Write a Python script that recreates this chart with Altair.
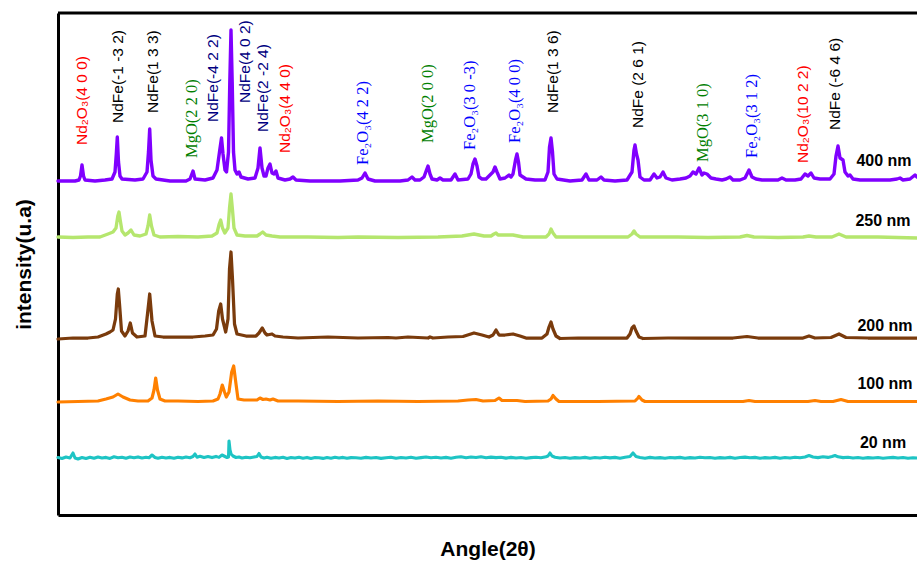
import altair as alt
import pandas as pd

# ---------------------------------------------------------------------------
# XRD patterns (2θ in degrees, intensity in arbitrary units above each baseline)
# ---------------------------------------------------------------------------
series_names = ["400 nm", "250 nm", "200 nm", "100 nm", "20 nm"]
series_colors = ["#8000ff", "#b5e66e", "#7a3b0c", "#ff8000", "#1ec4c4"]
series_offsets = [333, 277, 176, 113, 57]
series_widths = [3.4, 3.1, 3.0, 3.0, 2.4]

xrd_400 = [
    (10.0, 1), (11.7, 1), (12.1, 2), (12.25, 6), (12.4, 17), (12.55, 6), (12.7, 2),
    (13.7, 1), (14.7, 2), (15.4, 3), (15.7, 10), (15.83, 28), (15.93, 45), (16.05, 20),
    (16.2, 6), (16.4, 3), (17.7, 2), (18.5, 3), (18.9, 10), (19.05, 30), (19.17, 53),
    (19.3, 22), (19.5, 6), (19.8, 3), (21.2, 1), (22.8, 1), (23.2, 3), (23.5, 11),
    (23.7, 3), (24.7, 2), (25.5, 4), (25.9, 12), (26.15, 30), (26.35, 44), (26.5, 28),
    (26.7, 12), (26.85, 10), (27.05, 30), (27.18, 100), (27.3, 152), (27.42, 100),
    (27.55, 30), (27.7, 12), (27.9, 8), (28.1, 10), (28.3, 5), (29.0, 3), (29.7, 4),
    (30.0, 14), (30.2, 34), (30.4, 14), (30.6, 6), (30.8, 6), (31.0, 14), (31.2, 18),
    (31.4, 9), (31.6, 8), (31.8, 11), (32.0, 4), (32.7, 2), (33.2, 3), (33.5, 5),
    (33.8, 2), (35.2, 1), (38.2, 1), (40.0, 2), (40.4, 4), (40.7, 9), (41.0, 3),
    (41.7, 1), (44.2, 1), (45.0, 2), (45.4, 5), (45.7, 2), (46.2, 2), (46.6, 5),
    (46.85, 12), (47.0, 16), (47.2, 8), (47.4, 3), (47.9, 2), (48.2, 4), (48.5, 2),
    (49.3, 2), (49.7, 8), (50.0, 2), (51.0, 3), (51.3, 8), (51.5, 18), (51.7, 23),
    (51.9, 16), (52.1, 5), (52.4, 3), (52.8, 3), (53.5, 10), (53.7, 15), (53.9, 10),
    (54.2, 3), (54.7, 4), (55.1, 7), (55.3, 5), (55.5, 8), (55.75, 22), (55.9, 28),
    (56.05, 20), (56.2, 7), (56.5, 5), (56.8, 3), (57.7, 2), (58.7, 2), (59.0, 10),
    (59.15, 35), (59.3, 44), (59.45, 30), (59.6, 8), (59.9, 3), (61.2, 1), (62.4, 2),
    (62.8, 8), (63.1, 2), (63.9, 2), (64.3, 5), (64.6, 2), (65.7, 1), (66.9, 2),
    (67.4, 10), (67.6, 32), (67.7, 37), (67.85, 28), (68.0, 22), (68.2, 5), (68.6, 2),
    (69.2, 2), (69.6, 8), (69.9, 4), (70.2, 5), (70.5, 10), (70.8, 4), (71.4, 2),
    (72.2, 3), (72.8, 4), (73.2, 6), (73.5, 10), (73.8, 8), (74.1, 14), (74.4, 7),
    (74.6, 9), (74.9, 8), (75.3, 4), (75.8, 3), (76.4, 2), (76.8, 3), (77.2, 5),
    (77.5, 2), (78.2, 2), (78.7, 4), (79.1, 12), (79.4, 5), (79.8, 3), (80.4, 2),
    (81.4, 2), (82.0, 2), (82.4, 4), (82.8, 2), (83.7, 2), (84.3, 3), (84.7, 8),
    (85.0, 6), (85.3, 9), (85.6, 4), (86.2, 3), (87.2, 3), (87.6, 8), (87.8, 26),
    (88.0, 36), (88.2, 24), (88.5, 22), (88.7, 10), (89.0, 6), (89.2, 7), (89.5, 3),
    (90.2, 2), (91.2, 2), (92.2, 2), (93.2, 2), (93.9, 3), (94.2, 4), (94.5, 2),
    (95.2, 3), (95.7, 7), (95.9, 5),
]

xrd_250 = [
    (10.0, 1), (11.5, 0.5), (13.0, 1), (14.2, 1), (15.0, 4), (15.5, 6), (15.8, 10),
    (15.98, 22), (16.1, 26), (16.22, 18), (16.4, 7), (16.7, 3), (17.0, 5), (17.3, 8),
    (17.6, 3), (18.2, 2), (18.8, 4), (19.0, 12), (19.17, 23), (19.35, 12), (19.6, 3),
    (20.2, 1), (22.0, 1.5), (24.0, 1), (25.4, 2), (25.9, 5), (26.12, 14), (26.27, 18),
    (26.45, 10), (26.68, 5), (27.0, 10), (27.15, 30), (27.3, 44), (27.45, 28),
    (27.6, 10), (27.9, 3), (28.7, 2), (29.9, 2), (30.2, 4), (30.47, 6), (30.8, 3),
    (31.4, 2), (32.2, 1), (35.0, 1), (38.0, 0.5), (40.0, 1), (44.0, 0.5), (48.0, 1),
    (50.4, 2), (51.6, 4), (52.6, 2), (53.3, 2), (53.6, 4), (53.8, 5), (54.0, 3),
    (54.6, 3), (55.5, 3), (56.5, 1), (58.8, 1), (59.1, 4), (59.3, 9), (59.5, 5),
    (59.8, 1), (63.0, 1), (67.0, 1), (67.4, 4), (67.6, 7), (67.8, 4), (68.2, 1),
    (72.0, 1), (75.0, 0.5), (78.2, 1), (78.9, 2.5), (79.6, 1), (82.0, 0.5),
    (84.5, 1), (85.1, 2), (85.8, 1), (87.4, 1), (88.1, 4), (88.8, 1), (92.0, 1),
    (95.9, 0),
]

xrd_200 = [
    (10.0, 0), (11.5, 1), (13.0, 1), (14.0, 2), (14.8, 5), (15.2, 7), (15.5, 9),
    (15.75, 20), (15.93, 45), (16.03, 50), (16.15, 35), (16.35, 8), (16.7, 3),
    (17.0, 8), (17.23, 16), (17.45, 6), (17.9, 2), (18.7, 3), (18.95, 25), (19.17, 45),
    (19.4, 18), (19.7, 3), (20.5, 2), (22.0, 2), (23.5, 2), (24.7, 3), (25.5, 4),
    (25.85, 10), (26.07, 28), (26.27, 35), (26.45, 20), (26.77, 7), (27.0, 20),
    (27.15, 70), (27.3, 87), (27.45, 60), (27.65, 15), (27.9, 5), (28.8, 3),
    (29.8, 3), (30.1, 6), (30.43, 11), (30.7, 6), (30.9, 4), (31.4, 5), (31.7, 3),
    (32.5, 2), (34.0, 1), (37.0, 2), (40.0, 1), (43.0, 1.5), (43.8, 1), (45.0, 2),
    (47.0, 1), (47.2, 2), (47.5, 1), (49.0, 2), (50.5, 2.5), (51.6, 6), (52.4, 4),
    (53.1, 2), (53.5, 4), (53.8, 9), (54.1, 4), (54.7, 4), (55.5, 5), (56.2, 3),
    (56.8, 1), (58.4, 1), (58.9, 5), (59.1, 12), (59.3, 17), (59.5, 10), (59.8, 3),
    (60.2, 0.5), (62.0, 1), (65.0, 1), (66.9, 1), (67.2, 5), (67.4, 11), (67.6, 13),
    (67.8, 8), (68.1, 2), (68.5, 0.5), (71.0, 1), (74.0, 1), (77.5, 1), (78.9, 2.5),
    (80.0, 1), (83.0, 1), (84.5, 1), (85.1, 3), (85.7, 1), (87.3, 1.5), (88.1, 5),
    (88.8, 1.5), (91.0, 1), (95.9, 1),
]

xrd_100 = [
    (10.0, 0), (12.0, 0.5), (14.0, 1), (14.8, 3), (15.5, 5), (16.0, 8), (16.5, 5),
    (17.2, 2), (18.0, 1), (19.0, 1), (19.4, 4), (19.6, 12), (19.77, 24), (19.95, 12),
    (20.2, 3), (20.7, 1), (22.0, 1), (24.0, 0.5), (25.5, 1), (26.0, 3), (26.2, 8),
    (26.43, 17), (26.65, 10), (26.83, 5), (27.1, 10), (27.37, 30), (27.57, 36),
    (27.8, 18), (28.0, 3), (28.6, 2), (29.9, 2), (30.2, 4), (30.5, 2.5), (30.8, 3),
    (31.2, 2), (31.5, 3), (32.0, 1), (34.0, 1), (38.0, 0.5), (42.0, 1), (46.0, 0.5),
    (50.0, 1), (51.0, 2), (51.8, 2.5), (52.5, 1), (53.7, 1.5), (54.1, 4), (54.4, 1.5),
    (55.9, 1.5), (56.7, 0.5), (59.0, 1), (59.3, 3), (59.5, 6.5), (59.8, 3), (60.1, 0.5),
    (64.0, 0.5), (67.7, 1), (68.0, 4), (68.1, 5.5), (68.4, 2), (68.7, 0.5), (73.0, 0.5),
    (78.5, 0.5), (79.1, 1.5), (79.7, 0.5), (85.0, 0.5), (85.7, 1.5), (86.3, 0.5),
    (87.5, 0.5), (88.3, 2.5), (89.0, 0.5), (92.0, 0.5), (95.9, 0.5),
]

xrd_20 = [
    (10.0, 0.5), (10.4, -0.5), (10.8, 1), (11.2, 0), (11.5, 5), (11.7, 0), (12.0, -1),
    (12.4, 0.5), (12.8, -0.5), (13.2, 0.8), (13.6, -0.3), (14.0, 1), (14.4, 0),
    (14.8, 0.6), (15.2, -0.4), (15.6, 1.2), (16.0, 0.2), (16.4, 0.8), (16.8, -0.2),
    (17.2, 1), (17.6, 0.3), (18.0, 1.1), (18.4, 0), (18.8, 0.7), (19.1, 0.2), (19.4, 3),
    (19.7, 0.5), (20.0, -0.2), (20.4, 0.8), (20.8, 0), (21.2, 0.6), (21.6, -0.3),
    (22.0, 0.7), (22.4, 0.1), (22.8, 1), (23.2, 0.3), (23.5, 1.5), (23.7, 4), (23.9, 0.8),
    (24.2, 1.8), (24.6, 0.5), (25.0, 1.5), (25.4, 0.4), (25.8, 1.6), (26.1, 0.6),
    (26.4, 3), (26.7, 1.5), (26.9, 0.5), (27.05, 1), (27.1, 17), (27.2, 8), (27.3, 4),
    (27.5, 2), (27.8, 0.5), (28.1, 1), (28.4, 0), (28.8, 0.8), (29.2, 0.3), (29.6, 1),
    (29.9, 1.5), (30.1, 4.5), (30.3, 1), (30.6, 0), (30.9, 0.7), (31.3, -0.3),
    (31.7, 0.6), (32.1, 0), (32.5, 0.8), (32.9, -0.4), (33.3, 0.5), (33.7, 0),
    (34.1, 0.8), (34.5, -0.2), (34.9, 0.6), (35.3, -0.5), (35.7, 0.4), (36.1, 0.2),
    (36.5, -0.4), (36.9, 0.5), (37.3, -0.2), (37.7, 0.7), (38.1, 0), (38.5, 0.6),
    (38.9, -0.3), (39.3, 0.4), (39.8, 0.2), (40.3, -0.3), (40.8, 0.6), (41.3, 0),
    (41.8, 0.5), (42.3, -0.4), (42.8, 0.3), (43.3, 0.8), (43.8, -0.2), (44.3, 0.5),
    (44.8, 0), (45.3, 0.7), (45.8, -0.3), (46.3, 0.4), (46.8, 1), (47.3, 0.2),
    (47.8, 0.8), (48.3, 0), (48.8, 0.6), (49.3, -0.2), (49.8, 0.7), (50.3, 1.2),
    (50.8, 0.3), (51.3, 1), (51.8, 0.5), (52.3, 1.3), (52.8, 0.2), (53.3, 0.9),
    (53.8, 0.4), (54.3, 0.8), (54.8, -0.1), (55.3, 0.6), (55.8, 0), (56.3, 0.5),
    (56.8, -0.3), (57.3, 0.4), (57.8, 0.8), (58.3, 0.2), (58.8, 1.2), (59.0, 2),
    (59.2, 5), (59.4, 2), (59.7, 0.8), (60.2, 0), (60.7, 0.5), (61.2, -0.3), (61.7, 0.4),
    (62.2, 0), (62.7, 0.6), (63.2, -0.2), (63.7, 0.5), (64.2, 0), (64.7, 0.7),
    (65.2, 0.1), (65.7, 0.6), (66.2, -0.2), (66.7, 0.8), (67.2, 1.5), (67.5, 5),
    (67.8, 1.5), (68.2, 0.5), (68.7, -0.2), (69.2, 0.6), (69.7, 0), (70.2, 0.4),
    (70.7, -0.3), (71.2, 0.5), (71.7, 0.1), (72.2, 0.6), (72.7, -0.2), (73.2, 0.4),
    (73.7, 0), (74.2, 0.7), (74.7, 0.2), (75.2, 0.5), (75.7, -0.3), (76.2, 0.4),
    (76.7, 0), (77.2, 0.6), (77.7, -0.2), (78.2, 0.5), (78.7, 0.9), (79.2, 0.2),
    (79.7, 0.6), (80.2, -0.2), (80.7, 0.4), (81.2, 0), (81.7, 0.6), (82.2, -0.3),
    (82.7, 0.5), (83.2, 0), (83.7, 0.7), (84.2, 0.2), (84.7, 1), (85.1, 2.5), (85.5, 1),
    (86.0, 0.4), (86.5, 1.2), (87.0, 0.6), (87.4, 1.5), (87.7, 2.5), (88.0, 1.2),
    (88.5, 0.4), (89.0, 0.8), (89.5, 0), (90.0, 0.5), (90.5, -0.2), (91.0, 0.4),
    (91.5, 0), (92.0, 0.5), (92.5, -0.3), (93.0, 0.3), (93.5, 0.6), (94.0, 0),
    (94.5, 0.5), (95.0, -0.2), (95.5, 0.3), (95.9, 0),
]

# Reflection assignments: label, 2θ position, height of the label's start, phase
peak_labels = [
    "Nd₂O₃(4 0 0)", "NdFe(-1 -3 2)", "NdFe(1 3 3)", "MgO(2 2 0)", "NdFe(-4 2 2)",
    "NdFe(4 0 2)", "NdFe(2 -2 4)", "Nd₂O₃(4 4 0)", "Fe₂O₃(4 2 2)", "MgO(2 0 0)",
    "Fe₂O₃(3 0 -3)", "Fe₂O₃(4 0 0)", "NdFe(1 3 6)", "NdFe (2 6 1)", "MgO(3 1 0)",
    "Fe₂O₃(3 1 2)", "Nd₂O₃(10 2 2)", "NdFe (-6 4 6)",
]
peak_label_x = [12.4, 16.0, 19.5, 23.4, 25.5, 28.7, 30.5, 32.7, 40.5, 47.0,
                51.2, 55.7, 59.5, 68.0, 74.5, 79.4, 84.5, 87.7]
peak_label_y = [370, 392, 402, 357, 393, 412, 383, 362, 350, 372,
                365, 372, 402, 387, 353, 357, 352, 385]
peak_phase = ["Nd2O3", "NdFe", "NdFe", "MgO", "NdFe*", "NdFe*", "NdFe*", "Nd2O3",
              "Fe2O3", "MgO", "Fe2O3", "Fe2O3", "NdFe", "NdFe", "MgO", "Fe2O3",
              "Nd2O3", "NdFe"]

phase_colors = {"Nd2O3": "#ff0000", "NdFe": "#000000", "NdFe*": "#000080",
                "MgO": "#008000", "Fe2O3": "#0000ff"}
serif_phases = {"MgO", "Fe2O3"}

# Sample-thickness labels next to each pattern
thickness_label_x = [92.6, 92.5, 92.7, 92.7, 92.5]
thickness_label_y = [354, 294, 189, 131, 72]

# ---------------------------------------------------------------------------
rows = []
for name, pts, off in zip(series_names,
                          [xrd_400, xrd_250, xrd_200, xrd_100, xrd_20],
                          series_offsets):
    for i, (tt, cnt) in enumerate(pts):
        rows.append({"series": name, "two_theta": tt, "intensity": cnt + off, "idx": i})
patterns = pd.DataFrame(rows)

labels_df = pd.DataFrame({
    "text": peak_labels,
    "two_theta": peak_label_x,
    "intensity": peak_label_y,
    "color": [phase_colors[p] for p in peak_phase],
    "serif": [p in serif_phases for p in peak_phase],
})

names_df = pd.DataFrame({
    "text": series_names,
    "two_theta": thickness_label_x,
    "intensity": thickness_label_y,
})

W, H = 859, 502
x_scale = alt.Scale(domain=[10, 95.9], nice=False, zero=False)
y_scale = alt.Scale(domain=[0, H], nice=False, zero=False)

x_enc = alt.X(
    "two_theta:Q", scale=x_scale,
    axis=alt.Axis(title="Angle(2θ)", labels=False, ticks=False, grid=False,
                  domainColor="black", domainWidth=3,
                  titleFont="Liberation Sans", titleFontSize=21,
                  titleFontWeight="bold", titleColor="black", titlePadding=23),
)
y_enc = alt.Y(
    "intensity:Q", scale=y_scale,
    axis=alt.Axis(title="intensity(u.a)", labels=False, ticks=False, grid=False,
                  domainColor="black", domainWidth=3,
                  titleFont="Liberation Sans", titleFontSize=21,
                  titleFontWeight="bold", titleColor="black", titlePadding=24),
)

lines = alt.Chart(patterns).mark_line(strokeJoin="round", strokeCap="round").encode(
    x=x_enc,
    y=y_enc,
    color=alt.Color("series:N", scale=alt.Scale(domain=series_names, range=series_colors),
                    legend=None),
    strokeWidth=alt.StrokeWidth("series:N",
                                scale=alt.Scale(domain=series_names, range=series_widths),
                                legend=None),
    order="idx:Q",
)

sans_labels = alt.Chart(labels_df).transform_filter("!datum.serif").mark_text(
    angle=270, align="left", baseline="middle", font="Liberation Sans", fontSize=15.5,
).encode(
    x=alt.X("two_theta:Q", scale=x_scale),
    y=alt.Y("intensity:Q", scale=y_scale),
    text="text:N",
    color=alt.Color("color:N", scale=None),
)

serif_labels = alt.Chart(labels_df).transform_filter("datum.serif").mark_text(
    angle=270, align="left", baseline="middle", font="Liberation Serif", fontSize=16.5,
).encode(
    x=alt.X("two_theta:Q", scale=x_scale),
    y=alt.Y("intensity:Q", scale=y_scale),
    text="text:N",
    color=alt.Color("color:N", scale=None),
)

thickness_text = alt.Chart(names_df).mark_text(
    align="center", baseline="middle", font="Liberation Sans", fontSize=16,
    fontWeight="bold", color="black",
).encode(
    x=alt.X("two_theta:Q", scale=x_scale),
    y=alt.Y("intensity:Q", scale=y_scale),
    text="text:N",
)

top_border = alt.Chart(pd.DataFrame({"k": [0]})).mark_rule(
    color="black", strokeWidth=3
).encode(x=alt.value(0), x2=alt.value(W), y=alt.value(0))

chart = alt.layer(lines, sans_labels, serif_labels, thickness_text, top_border).properties(
    width=W,
    height=H,
    autosize=alt.AutoSizeParams(type="none"),
    padding={"left": 58, "top": 13, "right": 0, "bottom": 46},
    background="white",
).configure_view(strokeWidth=0)

chart.save("out.html", embed_options={"renderer": "svg", "actions": False})
